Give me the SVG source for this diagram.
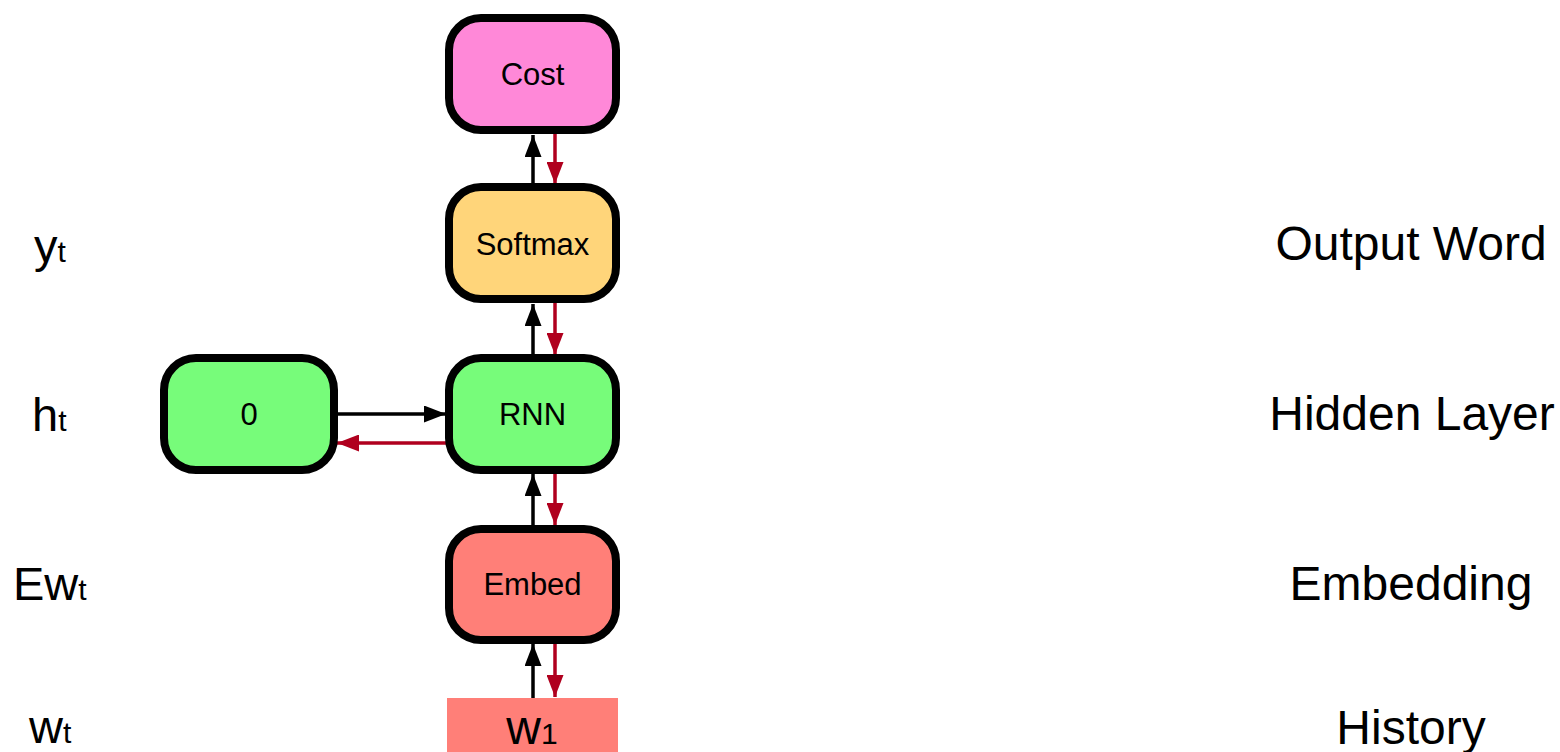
<svg xmlns="http://www.w3.org/2000/svg" width="1560" height="752" viewBox="0 0 1560 752">
<defs>
<style>
.box{stroke:#000;stroke-width:8}
.lbl{font-family:"Liberation Sans",Arial,sans-serif;font-size:31px;text-anchor:middle;fill:#000}
.side{font-family:"Liberation Sans",Arial,sans-serif;font-size:47px;fill:#000}
.right{font-family:"Liberation Sans",Arial,sans-serif;font-size:48px;text-anchor:middle;fill:#000}
.sub{font-size:30px}
.fw{stroke:#000;stroke-width:3.5;fill:none}
.bw{stroke:#B0001E;stroke-width:3.5;fill:none}
</style>
<marker id="ab" markerWidth="22" markerHeight="17" refX="22" refY="8.5" orient="auto" markerUnits="userSpaceOnUse" viewBox="0 0 22 17">
<path d="M0,0 L22,8.5 L0,17 z" fill="#000"/>
</marker>
<marker id="ar" markerWidth="22" markerHeight="17" refX="22" refY="8.5" orient="auto" markerUnits="userSpaceOnUse" viewBox="0 0 22 17">
<path d="M0,0 L22,8.5 L0,17 z" fill="#B0001E"/>
</marker>
</defs>
<rect width="1560" height="752" fill="#fff"/>
<g id="connectors">
<line class="fw" x1="533" y1="183" x2="533" y2="135" marker-end="url(#ab)"/>
<line class="bw" x1="555" y1="134" x2="555" y2="184" marker-end="url(#ar)"/>
<line class="fw" x1="533" y1="354" x2="533" y2="304" marker-end="url(#ab)"/>
<line class="bw" x1="555" y1="303" x2="555" y2="355" marker-end="url(#ar)"/>
<line class="fw" x1="533" y1="525" x2="533" y2="474" marker-end="url(#ab)"/>
<line class="bw" x1="555" y1="473" x2="555" y2="525" marker-end="url(#ar)"/>
<line class="fw" x1="533" y1="698" x2="533" y2="644" marker-end="url(#ab)"/>
<line class="bw" x1="555" y1="643" x2="555" y2="697" marker-end="url(#ar)"/>
<line class="fw" x1="338" y1="414" x2="446" y2="414" marker-end="url(#ab)"/>
<line class="bw" x1="447" y1="443" x2="337" y2="443" marker-end="url(#ar)"/>
</g>
<g id="cost">
<rect class="box" x="449" y="18" width="167" height="112" rx="32" fill="#FF88D8"/>
<text class="lbl" x="532.5" y="85">Cost</text>
</g>
<g id="softmax">
<rect class="box" x="449" y="187" width="167" height="112" rx="32" fill="#FFD57A"/>
<text class="lbl" x="532.5" y="255">Softmax</text>
</g>
<g id="rnn">
<rect class="box" x="449" y="358" width="167" height="112" rx="32" fill="#77FC7A"/>
<text class="lbl" x="532.5" y="425">RNN</text>
</g>
<g id="zero">
<rect class="box" x="164" y="358" width="170" height="112" rx="32" fill="#77FC7A"/>
<text class="lbl" x="249" y="425">0</text>
</g>
<g id="embed">
<rect class="box" x="449" y="529" width="167" height="111" rx="32" fill="#FF7F78"/>
<text class="lbl" x="532.5" y="595">Embed</text>
</g>
<g id="w1">
<rect x="447" y="698" width="171" height="56" fill="#FF7F78"/>
<text class="right" x="532" y="744">w<tspan class="sub">1</tspan></text>
</g>
<g id="left-labels">
<text class="side" x="34" y="262">y<tspan class="sub">t</tspan></text>
<text class="side" x="32" y="431">h<tspan class="sub">t</tspan></text>
<text class="side" x="13" y="600">Ew<tspan class="sub">t</tspan></text>
<text class="side" x="29" y="743">w<tspan class="sub">t</tspan></text>
</g>
<g id="right-labels">
<text class="right" x="1411" y="260">Output Word</text>
<text class="right" x="1412" y="430">Hidden Layer</text>
<text class="right" x="1411" y="600">Embedding</text>
<text class="right" x="1411" y="744">History</text>
</g>
</svg>
